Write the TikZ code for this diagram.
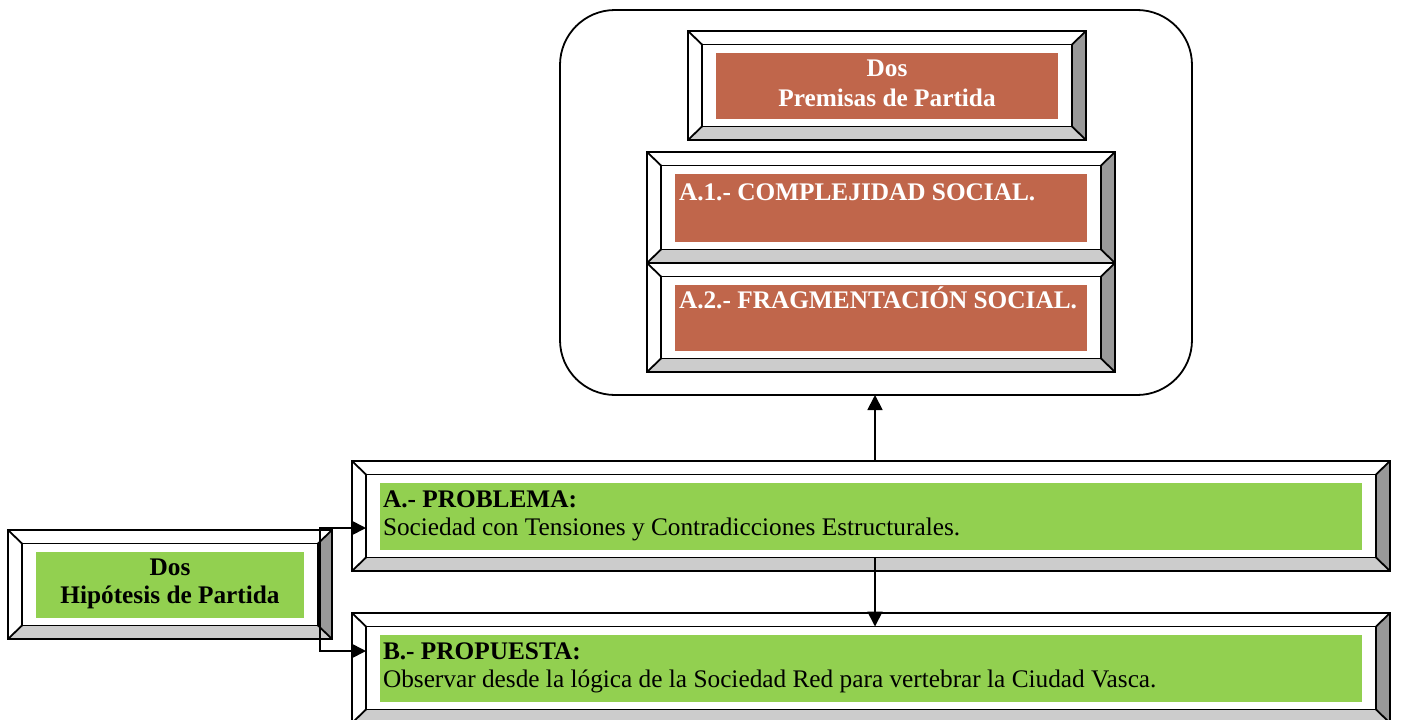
\documentclass[tikz,border=0pt]{standalone}
\usepackage{fontspec}
\setmainfont{Liberation Serif}
\usetikzlibrary{arrows.meta}
\definecolor{brick}{RGB}{192,102,75}
\definecolor{lgreen}{RGB}{146,208,80}
\definecolor{darkbev}{RGB}{153,153,153}
\definecolor{lightbev}{RGB}{204,204,204}
\tikzset{
  frm/.style={shape=rectangle, inner sep=0pt, outer sep=0pt, draw=none},
  colbox/.style={shape=rectangle, inner sep=0pt, outer sep=0pt, draw=none},
  edge/.style={line width=1.8pt, black, line join=miter},
  txt/.style={inner sep=0pt, outer sep=0pt, font=\fontsize{25.3}{30}\selectfont},
  arr/.style={line width=1.8pt, -{Triangle[length=15pt,width=15pt]}},
  darr/.style={line width=1.8pt, {Triangle[length=15pt,width=15pt]}-{Triangle[length=15pt,width=15pt]}},
}
\newcommand\bevframe[6]{%
 \node[frm, minimum width={(#4-(#2))*1pt}, minimum height={(#5-(#3))*1pt}] (#1) at ({(#2+#4)/2},{(#3+#5)/2}) {};
 \node[frm, minimum width={(#4-(#2)-28)*1pt}, minimum height={(#5-(#3)-27)*1pt}] (#1in) at (#1.center) {};
 \fill[white] (#1.north west) rectangle (#1.south east);
 \fill[darkbev] (#1.north east) -- (#1.south east) -- (#1in.south east) -- (#1in.north east) -- cycle;
 \fill[lightbev] (#1.south west) -- (#1.south east) -- (#1in.south east) -- (#1in.south west) -- cycle;
 \node[colbox, fill=#6, minimum width={(#4-(#2)-56)*1pt}, minimum height={(#5-(#3)-43)*1pt}] (#1c) at (#1.center) {};
 \draw[edge] (#1.north west) rectangle (#1.south east);
 \draw[edge] (#1in.north west) rectangle (#1in.south east);
 \draw[edge] (#1.north west) -- (#1in.north west) (#1.north east) -- (#1in.north east)
   (#1.south west) -- (#1in.south west) (#1.south east) -- (#1in.south east);
}
\begin{document}
\begin{tikzpicture}[x=1pt,y=-1pt]
\useasboundingbox (0,0) rectangle (1401,720);
\fill[white] (0,0) rectangle (1401,720);
% container
\node[draw, line width=1.8pt, rounded corners=55pt, minimum width=632pt, minimum height=385pt, inner sep=0pt, outer sep=0pt] (cont) at (876,202.5) {};
% frames
\bevframe{prem}{688}{31}{1086}{140}{brick}
\bevframe{aone}{647}{152}{1115}{263}{brick}
\bevframe{atwo}{647}{263}{1115}{372}{brick}
\bevframe{A}{352}{461}{1390}{571}{lgreen}
\bevframe{B}{352}{613}{1390}{723}{lgreen}
\bevframe{hip}{8}{530}{332}{639}{lgreen}
% texts
\node[txt, anchor=base, text=white, font=\fontsize{25.3}{30}\selectfont\bfseries] (t1) at (887,76) {Dos};
\node[txt, anchor=base, text=white, font=\fontsize{25.3}{30}\selectfont\bfseries] (t2) at (887,106) {Premisas de Partida};
\node[txt, anchor=base west, text=white, font=\fontsize{25.3}{30}\selectfont\bfseries] (t3) at (679,200) {A.1.- COMPLEJIDAD SOCIAL.};
\node[txt, anchor=base west, text=white, font=\fontsize{25.3}{30}\selectfont\bfseries] (t4) at (679,308) {A.2.- FRAGMENTACIÓN SOCIAL.};
\node[txt, anchor=base west, font=\fontsize{25.3}{30}\selectfont\bfseries] (t5) at (383,507) {A.- PROBLEMA:};
\node[txt, anchor=base west] (t6) at (383,535) {Sociedad con Tensiones y Contradicciones Estructurales.};
\node[txt, anchor=base west, font=\fontsize{25.3}{30}\selectfont\bfseries] (t7) at (383,659) {B.- PROPUESTA:};
\node[txt, anchor=base west] (t8) at (383,687) {Observar desde la lógica de la Sociedad Red para vertebrar la Ciudad Vasca.};
\node[txt, anchor=base, font=\fontsize{25.3}{30}\selectfont\bfseries] (t9) at (170,575) {Dos};
\node[txt, anchor=base, font=\fontsize{25.3}{30}\selectfont\bfseries] (t10) at (170,603) {Hipótesis de Partida};
% connectors
\coordinate (vx) at (875,395);
\draw[arr] (vx |- A.north) -- (vx |- cont.south);
\draw[arr] (vx |- Ain.south) -- (vx |- Bin.north);
\coordinate (j1) at (320,528);
\coordinate (j2) at (320,651);
\draw[darr, line join=miter] (Ain.west |- j1) -- (j1) -- (j2) -- (Bin.west |- j2);
\end{tikzpicture}
\end{document}
